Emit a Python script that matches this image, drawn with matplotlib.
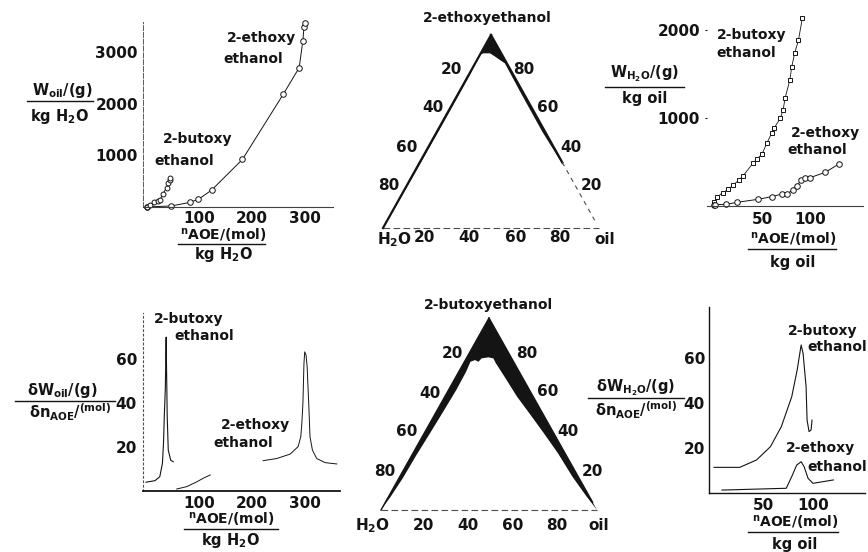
import numpy as np
import matplotlib.pyplot as plt
from matplotlib.lines import Line2D

plt.rcParams['font.family'] = ['DejaVu Sans']
plt.rcParams['font.weight'] = 'bold'
plt.rcParams['mathtext.fontset'] = 'custom'
plt.rcParams['mathtext.rm'] = 'DejaVu Sans:bold'
plt.rcParams['mathtext.it'] = 'DejaVu Sans:bold'
plt.rcParams['mathtext.bf'] = 'DejaVu Sans:bold'
plt.rcParams['mathtext.sf'] = 'DejaVu Sans:bold'
plt.rcParams['mathtext.default'] = 'rm'

W, H = 868, 552
INK = '#141414'

# --- top left: oil solubilised per kg water ---
eth_n_w = [1, 48, 83, 99, 124, 182, 259, 289, 296, 298, 300]
eth_oil = [0, 20, 90, 150, 330, 925, 2190, 2705, 3230, 3490, 3580]
but_n_w = [1, 8, 15, 22, 26, 32, 39, 42, 45, 46]
but_oil = [0, 40, 95, 110, 130, 260, 370, 470, 530, 560]

# --- top right: water solubilised per kg oil ---
but_n_o = [0, 0, 3, 9, 15, 20, 26, 30.5, 41, 44.5, 50, 55, 60, 62.5, 69, 72, 74, 79, 81, 84, 88, 92]
but_h2o = [10, 42, 99, 151, 189, 239, 295, 345, 492, 530, 591, 712, 826, 883, 996, 1091, 1224, 1432,
           1583, 1735, 1886, 2133]
eth_n_o = [0, 1, 13, 24, 46, 60, 71, 76, 82, 86, 91, 95, 100, 116, 130]
eth_h2o = [11, 15, 19, 42, 76, 106, 136, 136, 182, 227, 295, 314, 322, 383, 477]

# --- bottom left: derivative, water continuous ---
d_but_n_w = [0, 17, 26, 31, 33, 34.5, 36.5, 38, 38.5, 39, 40, 42, 46.6, 51.5]
d_but_w = [4, 4.7, 6.5, 12.6, 21.7, 33.8, 47, 70, 60, 52, 34, 18.6, 14, 13.3]
d_eth_n_w1 = [58, 77, 96, 108, 121]
d_eth_w1 = [0.9, 2, 4.2, 5.8, 7.3]
d_eth_n_w2 = [221, 247, 272, 287, 292, 294, 296, 298, 299.4, 302, 304, 307, 309.4, 314, 322, 338, 360]
d_eth_w2 = [13.8, 14.8, 16.8, 20.2, 24.7, 30.8, 39.8, 58, 63.3, 61.8, 56.5, 39.8, 24.7, 18.6, 14.8, 12.9, 12.3]

# --- bottom right: derivative, oil continuous ---
d_but_n_o = [0, 26, 43, 57, 68, 78.5, 84, 88, 90, 93, 94, 96, 98, 99]
d_but_o = [11.4, 11.4, 14.7, 20.6, 29.5, 42.8, 54.7, 65.8, 62, 47.2, 32.4, 27.3, 28, 32.4]
d_eth_n_o = [8, 73, 78.5, 83.5, 88, 91, 95, 100, 120.5]
d_eth_o = [1.3, 2.1, 7.3, 12.4, 13.9, 11.7, 6.5, 4.3, 5.8]

# --- ternary one-phase regions (mass fraction AOE, oil) ---
top_aoe = [0.04, 0.30, 0.60, 0.80, 0.879, 0.896, 0.905, 0.905, 0.888, 0.870, 0.853, 0.70, 0.50, 0.33]
top_oil = [0.003, 0.006, 0.007, 0.006, 0.0, 0.0, 0.012, 0.043, 0.075, 0.107, 0.138, 0.288, 0.487, 0.666]
bot_aoe = [0.0, 0.069, 0.165, 0.286, 0.399, 0.512, 0.625, 0.720, 0.772, 0.781, 0.772, 0.790, 0.795,
           0.790, 0.764, 0.694, 0.590, 0.495, 0.399, 0.295, 0.173, 0.069, 0.0]
bot_oil = [0.0, 0.010, 0.018, 0.021, 0.027, 0.032, 0.036, 0.034, 0.028, 0.045, 0.065, 0.071, 0.100,
           0.125, 0.150, 0.225, 0.335, 0.445, 0.555, 0.672, 0.800, 0.918, 1.0]
tern_ticks = ['20', '40', '60', '80']

fig = plt.figure(figsize=(W / 100, H / 100), dpi=100)


def axes_px(x0, x1, y0, y1):
    ax = fig.add_axes([x0 / W, 1 - y1 / H, (x1 - x0) / W, (y1 - y0) / H])
    ax.patch.set_alpha(0)
    return ax


def ftext(x, y, s, size=10, ha='center', va='center'):
    fig.text(x / W, 1 - y / H, s, ha=ha, va=va, fontsize=size,
             fontweight='bold', color=INK)


def fbar(x0, x1, y, lw=1.0):
    fig.add_artist(Line2D([x0 / W, x1 / W], [1 - y / H, 1 - y / H],
                          transform=fig.transFigure, color=INK, lw=lw))


def style(ax, xt, yt, xpad, ypad, ylen=0):
    for s in ['top', 'right']:
        ax.spines[s].set_visible(False)
    ax.set_xticks(xt)
    ax.set_yticks(yt)
    ax.tick_params(axis='x', length=0, pad=xpad, labelsize=11, colors=INK)
    ax.tick_params(axis='y', length=ylen, pad=ypad, labelsize=11, colors=INK)
    for lab in ax.get_xticklabels() + ax.get_yticklabels():
        lab.set_fontweight('bold')


NAOE = r'$^{n}$AOE/(mol)'

# ---------- top left ----------
ax1 = axes_px(143, 333, 22, 207)
ax1.plot(eth_n_w, eth_oil, '-o', color=INK, lw=0.7, ms=4, mfc='white', mew=0.7, clip_on=False)
ax1.plot(but_n_w, but_oil, '-o', color=INK, lw=0.7, ms=3.5, mfc='white', mew=0.7, clip_on=False)
ax1.set_xlim(-5.66, 352.8)
ax1.set_ylim(0, 3592)
style(ax1, [100, 200, 300], [1000, 2000, 3000], 3.0, 3.6)
ax1.spines['left'].set(linestyle=(0, (5, 2)), lw=0.7, color='0.35')
ax1.spines['bottom'].set(lw=0.8, color='0.25')

ftext(261, 38, '2-ethoxy')
ftext(253, 59, 'ethanol')
ftext(198, 139, '2-butoxy')
ftext(184, 161, 'ethanol')
ftext(62, 90, r'W$_{oil}$/(g)', 10.5)
fbar(27, 93, 101)
ftext(60, 117, r'kg H$_2$O', 10.5)
ftext(223, 240, NAOE, 10, va='baseline')
fbar(178, 265, 244)
ftext(224, 254, r'kg H$_2$O', 10.5)

# ---------- top right ----------
ax3 = axes_px(707, 863, 10, 206)
ax3.plot(but_n_o, but_h2o, '-s', color=INK, lw=0.6, ms=3.5, mfc='white', mew=0.7, clip_on=False)
ax3.plot(eth_n_o, eth_h2o, '-o', color=INK, lw=0.7, ms=4, mfc='white', mew=0.7, clip_on=False)
ax3.set_xlim(-7.3, 155.2)
ax3.set_ylim(0, 2227)
style(ax3, [50, 100], [1000, 2000], 4.0, 3.5, ylen=1.5)
ax3.spines['left'].set_visible(False)
ax3.spines['bottom'].set(lw=0.8, color='0.25')

ftext(752, 35, '2-butoxy')
ftext(746, 53, 'ethanol')
ftext(825, 133, '2-ethoxy')
ftext(817, 150, 'ethanol')
ftext(645, 74, r'W$_{H_2O}$/(g)', 10.5)
fbar(605, 684, 87)
ftext(645, 99, 'kg oil', 10.5)
ftext(793, 244, NAOE, 10, va='baseline')
fbar(748, 836, 249)
ftext(793, 262, 'kg oil', 10.5)

# ---------- bottom left ----------
ax4 = axes_px(143, 340, 313, 491)
ax4.plot(d_but_n_w, d_but_w, '-', color=INK, lw=0.8, clip_on=False)
ax4.plot(d_eth_n_w1, d_eth_w1, '-', color=INK, lw=0.7, clip_on=False)
ax4.plot(d_eth_n_w2, d_eth_w2, '-', color=INK, lw=0.7, clip_on=False)
ax4.set_xlim(-5.66, 366)
ax4.set_ylim(0, 81)
style(ax4, [100, 200, 300], [20, 40, 60], 3.8, 4.3)
ax4.spines['left'].set(linestyle=(0, (1.5, 2.5)), lw=0.8, color='0.3')
ax4.spines['bottom'].set(lw=1.3, color=INK)

ftext(189, 319, '2-butoxy')
ftext(204, 336, 'ethanol')
ftext(255, 425, '2-ethoxy')
ftext(243, 443, 'ethanol')
ftext(62, 391, r'δW$_{oil}$/(g)', 10.5)
fbar(15, 115, 401)
ftext(70, 412, r'δn$_{AOE}$/$^{(mol)}$', 10.5)
ftext(231, 524, NAOE, 10, va='baseline')
fbar(184, 278, 529)
ftext(231, 541, r'kg H$_2$O', 10.5)

# ---------- bottom right ----------
ax6 = axes_px(709, 865, 307, 493)
ax6.plot(d_but_n_o, d_but_o, '-', color=INK, lw=0.8, clip_on=False)
ax6.plot(d_eth_n_o, d_eth_o, '-', color=INK, lw=0.8, clip_on=False)
ax6.set_xlim(-5.05, 152.5)
ax6.set_ylim(0, 82.7)
style(ax6, [50, 100], [20, 40, 60], 3.6, 2.9)
ax6.spines['left'].set(lw=1.0, color=INK)
ax6.spines['bottom'].set(lw=1.0, color=INK)

ftext(823, 331, '2-butoxy')
ftext(807, 347, 'ethanol', ha='left')
ftext(820, 448, '2-ethoxy')
ftext(807, 467, 'ethanol', ha='left')
ftext(636, 388, r'δW$_{H_2O}$/(g)', 10.5)
fbar(588, 684, 398)
ftext(636, 410, r'δn$_{AOE}$/$^{(mol)}$', 10.5)
ftext(795, 527, NAOE, 10, va='baseline')
fbar(748, 838, 532)
ftext(795, 545, 'kg oil', 10.5)


# ---------- ternary diagrams ----------
def tern_xy(aoe, oil):
    aoe = np.asarray(aoe, float)
    oil = np.asarray(oil, float)
    return oil + aoe / 2, aoe


def ternary(ax, aoe, oil):
    ax.set_xlim(0, 1)
    ax.set_ylim(0, 1)
    ax.axis('off')
    bx, by = tern_xy(aoe, oil)
    px = list(bx) + [1 - aoe[-1] / 2, 0.5, aoe[0] / 2]
    py = list(by) + [aoe[-1], 1.0, aoe[0]]
    ax.fill(px, py, color=INK, lw=0, clip_on=False)
    ax.plot([0, 1], [0, 0], color='0.3', lw=0.8, ls=(0, (6, 3)), clip_on=False)


ax2 = axes_px(383, 599, 35, 228)
ternary(ax2, top_aoe, top_oil)
ax2.plot([0, 0.5], [0, 1], color=INK, lw=1.6, clip_on=False)
ax2.plot([0.5, 0.83], [1, 0.34], color=INK, lw=1.6, clip_on=False)
ax2.plot([0.83, 0.98], [0.34, 0.04], color='0.3', lw=0.8, ls=(0, (4, 4)), clip_on=False)

ftext(487, 18, '2-ethoxyethanol')
for lab, (xl, yl), (xr, yr) in zip(tern_ticks, [(451, 70), (433, 108), (407, 147), (389, 185)],
                                   [(591, 185), (571, 147), (548, 108), (524, 70)]):
    ftext(xl, yl, lab, 11)
    ftext(xr, yr, lab, 11)
ftext(395, 240, r'H$_2$O', 11)
for lab, xb in zip(tern_ticks, [424, 469, 516, 560]):
    ftext(xb, 238, lab, 11)
ftext(605, 240, 'oil', 11)

ax5 = axes_px(381, 597, 318, 510)
ternary(ax5, bot_aoe, bot_oil)
ax5.plot([0, 0.5], [0, 1], color=INK, lw=1.0, clip_on=False)
ax5.plot([0.5, 0.98], [1, 0.04], color=INK, lw=1.0, clip_on=False)

ftext(488, 305, '2-butoxyethanol')
for lab, (xl, yl), (xr, yr) in zip(tern_ticks, [(452, 353), (430, 393), (407, 432), (385, 472)],
                                   [(592, 472), (568, 432), (548, 392), (527, 353)]):
    ftext(xl, yl, lab, 11)
    ftext(xr, yr, lab, 11)
ftext(373, 526, r'H$_2$O', 11)
for lab, xb in zip(tern_ticks, [423, 468, 513, 557]):
    ftext(xb, 525, lab, 11)
ftext(599, 526, 'oil', 11)

fig.savefig('out.png', dpi=100, facecolor='white')
